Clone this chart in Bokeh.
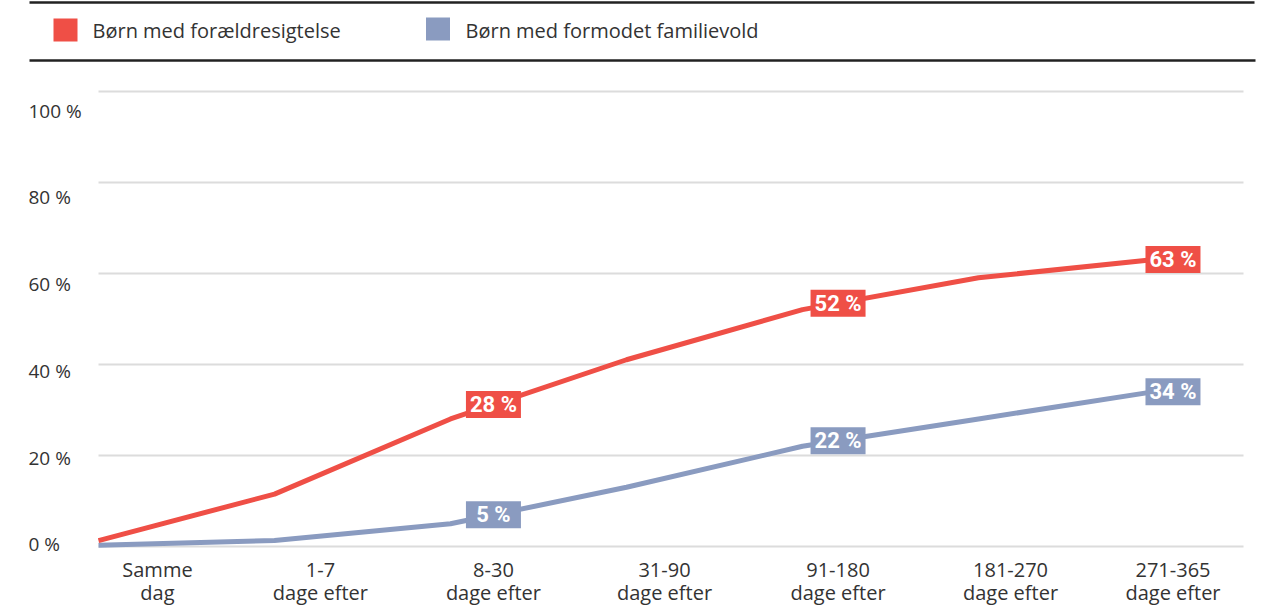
import numpy as np
from bokeh.plotting import figure
from bokeh.models import Range1d, FixedTicker, Grid
from bokeh.core.properties import value
from bokeh.embed import file_html
from bokeh.resources import INLINE

# ---------------- data ----------------
categories = ["Samme\ndag", "1-7\ndage efter", "8-30\ndage efter", "31-90\ndage efter",
              "91-180\ndage efter", "181-270\ndage efter", "271-365\ndage efter"]
series_names = ["Børn med forældresigtelse", "Børn med formodet familievold"]
sigtelse = [1.3, 11.5, 28, 41, 52, 59, 63]
familievold = [0.3, 1.3, 5, 13, 22, 28, 34]
labelled_idx = [2, 4, 6]
y_ticks = [0, 20, 40, 60, 80, 100]
y_tick_labels = ["0 %", "20 %", "40 %", "60 %", "80 %", "100 %"]

# ---------------- style / layout ----------------
RED = "#ef4f46"
BLUE = "#8a9bc0"
TEXT = "#333333"
FONT = "Open Sans"
W, H = 1262, 605
X0_PX, X_STEP_PX = 98, 176      # pixel of first category, pixels per category
Y0_PX, Y_UNIT_PX = 546, 4.555   # pixel of 0 %, pixels per percent


def dx(px):
    return (px - X0_PX) / X_STEP_PX


def dy(py):
    return (Y0_PX - py) / Y_UNIT_PX


# tick-label positions (reference places them slightly off the data points)
label_x = [0.335, 1.261, 2.244, 3.216, 4.202, 5.182, 6.105]
label_y = [0.44 + 0.9526 * t for t in y_ticks]
plot_right = dx(1243)

p = figure(width=W, height=H, x_range=Range1d(dx(0), dx(W)), y_range=Range1d(dy(H), dy(0)),
           toolbar_location=None, output_backend="svg", min_border=0,
           x_axis_type=None, y_axis_type=None, outline_line_color=None)

# horizontal gridlines
p.add_layout(Grid(dimension=1, ticker=FixedTicker(ticks=y_ticks), cross_bounds=(0, plot_right),
                  grid_line_color="#dcdcdc", grid_line_width=2))

# y tick labels (left aligned)
p.text(x=[dx(28)] * len(y_ticks), y=label_y, text=y_tick_labels, text_font=value(FONT),
       text_font_size="19px", text_color=TEXT, text_align="left", text_baseline="middle")

# x tick labels (two lines)
first = [c.split("\n")[0] for c in categories]
second = [c.split("\n")[1] for c in categories]
p.text(x=label_x, y=[0] * len(label_x), text=first, y_offset=23, text_font=value(FONT),
       text_font_size="20px", text_color=TEXT, text_align="center", text_baseline="middle")
p.text(x=label_x, y=[0] * len(label_x), text=second, y_offset=46, text_font=value(FONT),
       text_font_size="20px", text_color=TEXT, text_align="center", text_baseline="middle")

# legend strip
p.segment(x0=[dx(29), dx(29)], y0=[dy(2), dy(60)], x1=[dx(1254), dx(1255)], y1=[dy(2), dy(60)],
          line_color="#222222", line_width=2.5)
p.rect(x=[dx(65), dx(437.5)], y=[dy(29.5), dy(28.5)], width=24, height=23,
       width_units="screen", height_units="screen", fill_color=[RED, BLUE], line_color=None)
p.text(x=[dx(92), dx(465)], y=[dy(30), dy(30)], text=series_names, text_font=value(FONT),
       text_font_size="20px", text_color=TEXT, text_baseline="middle", text_align="left")

# lines
x_idx = list(range(len(categories)))
p.line(x_idx, familievold, line_width=5, line_color=BLUE, line_join="round")
p.line(x_idx, sigtelse, line_width=5, line_color=RED, line_join="round")

# value boxes
for series, col in [(sigtelse, RED), (familievold, BLUE)]:
    xs = [label_x[i] for i in labelled_idx]
    ys = list(np.interp(xs, x_idx, series))
    texts = [f"{round(series[i])} %" for i in labelled_idx]
    p.rect(x=xs, y=ys, width=55, height=27, width_units="screen", height_units="screen",
           fill_color=col, line_color=None)
    p.text(x=xs, y=ys, text=texts, text_font=value("Roboto"),
           text_font_style="bold", text_font_size="22px", text_color="white",
           text_align="center", text_baseline="middle")

open("out.html", "w").write(file_html(p, INLINE))
